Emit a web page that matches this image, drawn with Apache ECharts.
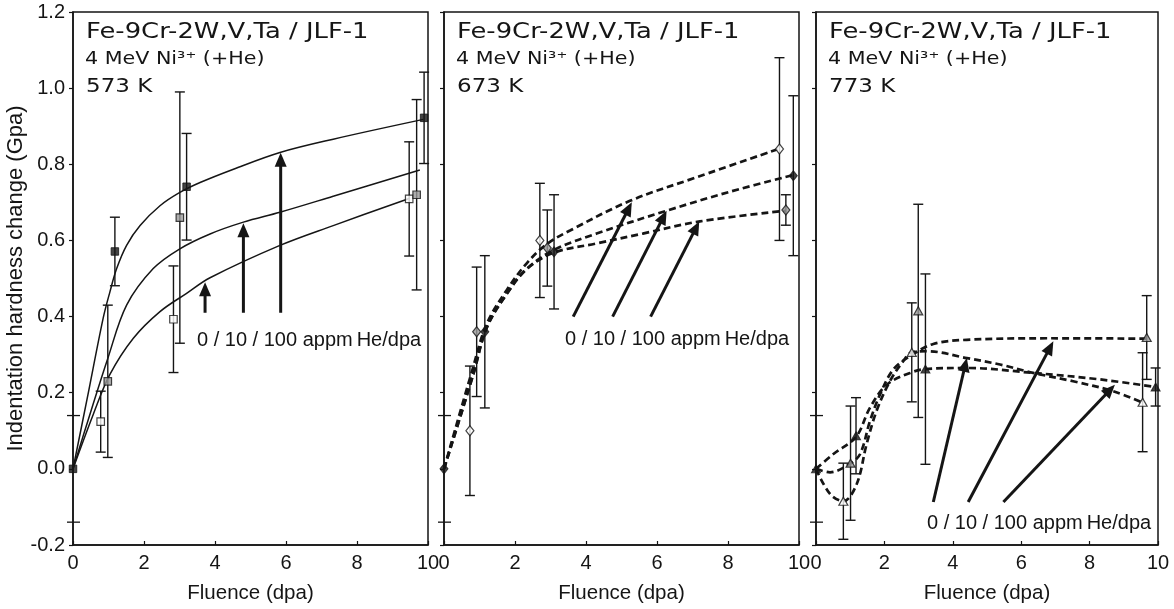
<!DOCTYPE html>
<html>
<head>
<meta charset="utf-8">
<title>Indentation hardness change vs fluence</title>
<script src="https://cdn.jsdelivr.net/npm/echarts@6/dist/echarts.min.js"></script>
<style>
  html, body { margin: 0; padding: 0; background: #fff; }
  #chart { width: 1174px; height: 609px; }
</style>
</head>
<body>
<div id="chart"></div>
<script>
// ---- Measured hardness change (GPa) vs fluence (dpa), three He co-implantation rates ----
// 573 K
const dpa573_0 = [0.78, 2.83, 9.47];
const hard573_0 = [0.124, 0.393, 0.709];
const err573_0 = [0.08, 0.14, 0.15];
const dpa573_10 = [0.98, 3.01, 9.68];
const hard573_10 = [0.23, 0.66, 0.72];
const err573_10 = [0.20, 0.33, 0.25];
const dpa573_100 = [0, 1.18, 3.20, 9.89];
const hard573_100 = [0, 0.571, 0.741, 0.922];
const err573_100 = [0, 0.09, 0.14, 0.12];

// 673 K
const dpa673_0 = [0.73, 2.70, 9.45];
const hard673_0 = [0.10, 0.60, 0.84];
const err673_0 = [0.17, 0.15, 0.24];
const dpa673_10 = [0.92, 2.91, 9.63];
const hard673_10 = [0.36, 0.58, 0.68];
const err673_10 = [0.17, 0.10, 0.04];
const dpa673_100 = [0, 1.15, 3.10, 9.84];
const hard673_100 = [0, 0.36, 0.57, 0.77];
const err673_100 = [0, 0.20, 0.15, 0.21];

// 773 K
const dpa773_0 = [0.80, 2.80, 9.55];
const hard773_0 = [-0.085, 0.306, 0.175];
const err773_0 = [0.10, 0.13, 0.13];
const dpa773_10 = [1.01, 2.99, 9.67];
const hard773_10 = [0.015, 0.415, 0.345];
const err773_10 = [0.15, 0.28, 0.11];
const dpa773_100 = [0, 1.17, 3.20, 9.93];
const hard773_100 = [0, 0.087, 0.262, 0.215];
const err773_100 = [0, 0.10, 0.25, 0.05];

// ---- Trend curves [dpa, GPa] ----
const fit573_0 = [[0,0],[0.57,0.143],[1.04,0.248],[1.70,0.343],[2.45,0.413],[3.20,0.461],[3.86,0.502],[5.83,0.587],[7.33,0.639],[9.49,0.711]];
const fit573_10 = [[0,0],[0.50,0.15],[0.98,0.29],[1.51,0.43],[2.26,0.526],[3.01,0.578],[3.86,0.617],[4.80,0.648],[5.83,0.674],[7.33,0.716],[9.77,0.785]];
const fit573_100 = [[0,0],[0.40,0.185],[0.85,0.396],[1.04,0.465],[1.23,0.526],[1.51,0.587],[1.89,0.639],[2.45,0.691],[3.01,0.726],[3.58,0.752],[4.52,0.787],[5.83,0.831],[7.33,0.866],[9.87,0.918]];

const fit673_a = [[0,0],[0.80,0.26],[1.20,0.38],[1.77,0.47],[2.33,0.54],[2.89,0.59],[3.55,0.626],[5.24,0.704],[7.12,0.766],[9.45,0.841]];
const fit673_b = [[0,0],[0.83,0.25],[1.20,0.37],[1.77,0.46],[2.33,0.525],[3.10,0.575],[4.30,0.618],[6.27,0.678],[8.06,0.728],[9.84,0.772]];
const fit673_c = [[0,0],[0.83,0.25],[1.20,0.37],[1.77,0.46],[2.33,0.525],[3.10,0.568],[4.30,0.592],[5.60,0.618],[7.21,0.65],[9.63,0.678]];

const fit773_0 = [[0,0],[0.41,-0.066],[0.80,-0.085],[1.19,-0.04],[1.48,0.065],[1.77,0.152],[2.16,0.23],[2.55,0.283],[2.80,0.306],[3.24,0.309],[4.41,0.291],[5.38,0.274],[6.35,0.252],[7.52,0.23],[8.69,0.204],[9.55,0.174]];
const fit773_10 = [[0,0],[0.41,-0.009],[0.99,0.013],[1.29,0.039],[1.58,0.126],[1.87,0.195],[2.26,0.261],[2.75,0.296],[3.43,0.328],[4.41,0.339],[6.84,0.343],[9.67,0.342]];
const fit773_100 = [[0,0],[0.51,0.039],[1.17,0.084],[1.58,0.161],[2.07,0.221],[2.75,0.252],[3.20,0.262],[4.41,0.265],[6.35,0.252],[8.30,0.235],[9.93,0.215]];

// ---- Pointer arrows [fromDpa, fromGPa, toDpa, toGPa] ----
const arrows573 = [[3.72,0.41,3.72,0.49],[4.80,0.41,4.80,0.645],[5.85,0.41,5.85,0.83]];
const arrows673 = [[3.64,0.40,5.29,0.70],[4.75,0.40,6.27,0.678],[5.82,0.40,7.19,0.65]];
const arrows773 = [[3.43,-0.087,4.41,0.291],[4.45,-0.087,6.94,0.335],[5.48,-0.087,8.74,0.221]];

// ---- Axis setup ----
const fluenceTicks = [0, 2, 4, 6, 8, 10];
const hardnessTicks = [-0.2, 0.0, 0.2, 0.4, 0.6, 0.8, 1.0, 1.2];
const offsetTicks = [0.14, -0.14];
const temperatures = ['573 K', '673 K', '773 K'];
const alloyLine = 'Fe-9Cr-2W,V,Ta / JLF-1';
const beamLine = '4 MeV Ni\u00B3\u207A (+He)';
const rateLabel = '0 / 10 / 100 appm\u2009He/dpa';
const xTitle = 'Fluence (dpa)';
const yTitle = 'Indentation hardness change (Gpa)';

const INK = '#151515';
const FONT_NUM = '"Liberation Sans", Arial, Helvetica, sans-serif';
const FONT_NOTE = '"DejaVu Sans", Verdana, sans-serif';

const grids = [
  { left: 73, top: 12, width: 355, height: 536 },
  { left: 444, top: 12, width: 355, height: 536 },
  { left: 816, top: 12, width: 342, height: 536 }
];

function zip(xs, ys, es) {
  return xs.map((x, i) => es ? [x, ys[i], es[i]] : [x, ys[i]]);
}

function errorBarItem(params, api) {
  const x = api.value(0), y = api.value(1), e = api.value(2);
  if (!e) return null;
  const hi = api.coord([x, y + e]);
  const lo = api.coord([x, y - e]);
  const w = 5;
  const st = { stroke: INK, lineWidth: 1.4 };
  return {
    type: 'group',
    children: [
      { type: 'line', shape: { x1: hi[0], y1: hi[1], x2: lo[0], y2: lo[1] }, style: st },
      { type: 'line', shape: { x1: hi[0] - w, y1: hi[1], x2: hi[0] + w, y2: hi[1] }, style: st },
      { type: 'line', shape: { x1: lo[0] - w, y1: lo[1], x2: lo[0] + w, y2: lo[1] }, style: st }
    ]
  };
}

function arrowItem(params, api) {
  const a = api.coord([api.value(0), api.value(1)]);
  const b = api.coord([api.value(2), api.value(3)]);
  const dx = b[0] - a[0], dy = b[1] - a[1];
  const len = Math.sqrt(dx * dx + dy * dy);
  const ux = dx / len, uy = dy / len;
  const px = -uy, py = ux;
  const headLen = 14, headHalf = 6;
  const bx = b[0] - ux * headLen, by = b[1] - uy * headLen;
  return {
    type: 'group',
    children: [
      { type: 'line', shape: { x1: a[0], y1: a[1], x2: bx + ux * 2, y2: by + uy * 2 },
        style: { stroke: INK, lineWidth: 3 } },
      { type: 'polygon', shape: { points: [[b[0], b[1]], [bx + px * headHalf, by + py * headHalf], [bx - px * headHalf, by - py * headHalf]] },
        style: { fill: INK } }
    ]
  };
}

function offsetTickItem(params, api) {
  const p = api.coord([api.value(0), api.value(1)]);
  return { type: 'line', shape: { x1: p[0] - 6, y1: p[1], x2: p[0] + 7, y2: p[1] },
    style: { stroke: INK, lineWidth: 1.3 } };
}

const openStyle = { color: '#ffffff', borderColor: INK, borderWidth: 1.2 };
const grayStyle = { color: '#9a9a9a', borderColor: INK, borderWidth: 1.2 };
const fillStyle = { color: INK, borderColor: INK, borderWidth: 1 };

function panelSeries(i, cfg) {
  const list = [];
  cfg.fits.forEach(f => {
    list.push({
      type: 'line', xAxisIndex: i, yAxisIndex: i, data: f, smooth: 0.35,
      showSymbol: false, symbol: 'none', silent: true, clip: false, z: 2,
      lineStyle: cfg.dashed ? { color: INK, width: 2.7, type: [7, 4] } : { color: INK, width: 1.5 }
    });
  });
  cfg.sets.forEach(s => {
    list.push({
      type: 'custom', xAxisIndex: i, yAxisIndex: i, data: s.data, z: 3, clip: false,
      renderItem: errorBarItem, encode: { x: 0, y: 1 }, silent: true
    });
  });
  cfg.sets.forEach(s => {
    list.push({
      type: 'scatter', xAxisIndex: i, yAxisIndex: i, data: s.data.map(d => [d[0], d[1]]),
      symbol: cfg.symbol, symbolSize: cfg.size, itemStyle: s.style, z: 5, clip: false, silent: true
    });
  });
  list.push({
    type: 'custom', xAxisIndex: i, yAxisIndex: i, data: cfg.arrows, z: 4, clip: false,
    renderItem: arrowItem, encode: { x: [0, 2], y: [1, 3] }, silent: true
  });
  list.push({
    type: 'custom', xAxisIndex: i, yAxisIndex: i, data: offsetTicks.map(v => [0, v]), z: 4, clip: false,
    renderItem: offsetTickItem, encode: { x: 0, y: 1 }, silent: true
  });
  return list;
}

const panels = [
  {
    fits: [fit573_0, fit573_10, fit573_100], dashed: false, symbol: 'rect', size: 7.5,
    sets: [
      { data: zip(dpa573_0, hard573_0, err573_0), style: openStyle },
      { data: zip(dpa573_10, hard573_10, err573_10), style: grayStyle },
      { data: zip(dpa573_100, hard573_100, err573_100), style: fillStyle }
    ],
    arrows: arrows573
  },
  {
    fits: [fit673_a, fit673_b, fit673_c], dashed: true, symbol: 'diamond', size: [8, 10],
    sets: [
      { data: zip(dpa673_0, hard673_0, err673_0), style: openStyle },
      { data: zip(dpa673_10, hard673_10, err673_10), style: grayStyle },
      { data: zip(dpa673_100, hard673_100, err673_100), style: fillStyle }
    ],
    arrows: arrows673
  },
  {
    fits: [fit773_0, fit773_10, fit773_100], dashed: true, symbol: 'triangle', size: [9, 8],
    sets: [
      { data: zip(dpa773_0, hard773_0, err773_0), style: openStyle },
      { data: zip(dpa773_10, hard773_10, err773_10), style: grayStyle },
      { data: zip(dpa773_100, hard773_100, err773_100), style: fillStyle }
    ],
    arrows: arrows773
  }
];

const axisLineStyle = { color: INK, width: 1.5 };

const xAxes = grids.map((g, i) => ({
  type: 'value', gridIndex: i,
  min: fluenceTicks[0], max: fluenceTicks[fluenceTicks.length - 1],
  interval: fluenceTicks[1] - fluenceTicks[0],
  axisLine: { show: true, onZero: false, lineStyle: axisLineStyle },
  axisTick: { show: true, inside: true, length: 4, lineStyle: { color: INK, width: 1.2 } },
  axisLabel: { fontSize: 20, fontFamily: FONT_NUM, color: INK, margin: 8 },
  splitLine: { show: false },
  name: xTitle, nameLocation: 'middle', nameGap: 38,
  nameTextStyle: { fontSize: 20.5, fontFamily: FONT_NUM, color: INK }
}));

const yAxes = grids.map((g, i) => ({
  type: 'value', gridIndex: i,
  min: hardnessTicks[0], max: hardnessTicks[hardnessTicks.length - 1],
  interval: 0.2,
  axisLine: { show: true, onZero: false, lineStyle: axisLineStyle },
  axisTick: { show: true, inside: false, length: 4, lineStyle: { color: INK, width: 1.2 } },
  axisLabel: {
    show: i === 0, fontSize: 20, fontFamily: FONT_NUM, color: INK, margin: 8,
    formatter: v => v.toFixed(1)
  },
  splitLine: { show: false },
  name: i === 0 ? yTitle : '', nameLocation: 'middle', nameGap: 44,
  nameTextStyle: { fontSize: 22, fontFamily: FONT_NUM, color: INK }
}));

// Panel headings and rate labels
const graphics = [];
grids.forEach((g, i) => {
  const x0 = g.left + 13;
  graphics.push({ type: 'text', x: x0, y: 32.5, scaleX: 1.26, silent: true,
    style: { text: alloyLine, fontSize: 20.5, fontFamily: FONT_NOTE, fill: INK, verticalAlign: 'middle' } });
  graphics.push({ type: 'text', x: x0 - 1, y: 59, scaleX: 1.18, silent: true,
    style: { text: beamLine, fontSize: 17.5, fontFamily: FONT_NOTE, fill: INK, verticalAlign: 'middle' } });
  graphics.push({ type: 'text', x: x0, y: 86.5, scaleX: 1.15, silent: true,
    style: { text: temperatures[i], fontSize: 20, fontFamily: FONT_NOTE, fill: INK, verticalAlign: 'middle' } });
});
const rateLabelPos = [[197, 340], [565, 339], [927, 523]];
rateLabelPos.forEach(p => {
  graphics.push({ type: 'text', x: p[0], y: p[1], silent: true,
    style: { text: rateLabel, fontSize: 20, fontFamily: FONT_NUM, fill: INK, verticalAlign: 'middle' } });
});

const chart = echarts.init(document.getElementById('chart'), null, { renderer: 'canvas' });
chart.setOption({
  backgroundColor: '#ffffff',
  animation: false,
  grid: grids.map(g => Object.assign({ show: true, borderColor: INK, borderWidth: 1.5, backgroundColor: 'transparent' }, g)),
  xAxis: xAxes,
  yAxis: yAxes,
  series: panels.flatMap((p, i) => panelSeries(i, p)),
  graphic: graphics
});
</script>
</body>
</html>
